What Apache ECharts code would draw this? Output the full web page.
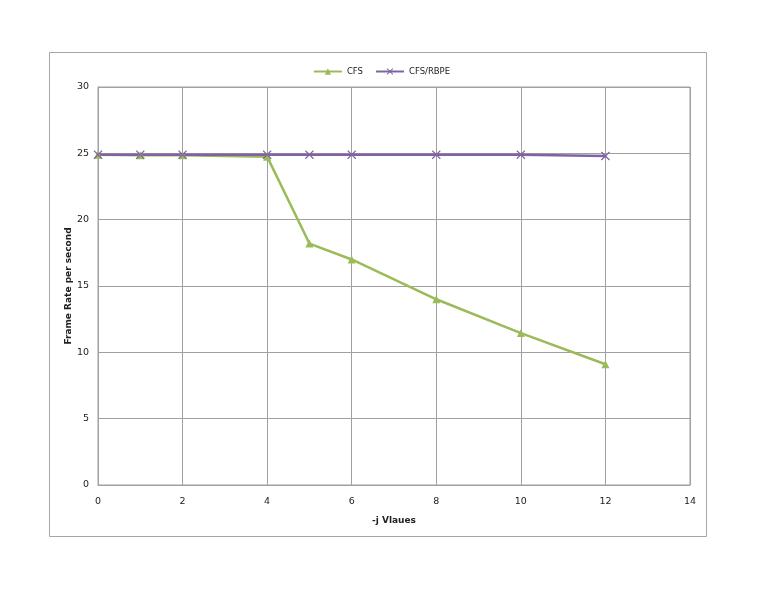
<!DOCTYPE html>
<html>
<head>
<meta charset="utf-8">
<script src="https://cdn.jsdelivr.net/npm/echarts@6/dist/echarts.min.js"></script>
<style>
  html, body { margin: 0; padding: 0; background: #fff; }
  #chart { width: 763px; height: 599px; }
</style>
</head>
<body>
<div id="chart"></div>
<script>
// -j values and frame rates
const jValues = [0, 1, 2, 4, 5, 6, 8, 10, 12];
const cfs = [24.9, 24.85, 24.85, 24.75, 18.2, 17, 14, 11.45, 9.1];
const cfsRbpe = [24.9, 24.9, 24.9, 24.9, 24.9, 24.9, 24.9, 24.9, 24.8];

const pairs = (ys) => jValues.map((x, i) => [x, ys[i]]);
const crossPath = "path://M0,1L1,0L5,4L9,0L10,1L6,5L10,9L9,10L5,6L1,10L0,9L4,5Z";

const chart = echarts.init(document.getElementById("chart"));
const axisText = { color: "#222", fontSize: 9.5, fontFamily: "DejaVu Sans" };
chart.setOption({
  animation: false,
  graphic: [
    {
      type: "rect",
      shape: { x: 49.5, y: 52.5, width: 657, height: 484 },
      style: { fill: "none", stroke: "#a6a6a6", lineWidth: 1 },
      silent: true,
    },
  ],
  legend: {
    top: 62,
    left: "center",
    itemWidth: 28,
    itemHeight: 8,
    itemGap: 12,
    textStyle: { fontSize: 8.5, color: "#222", fontFamily: "DejaVu Sans" },
    data: ["CFS", "CFS/RBPE"],
  },
  grid: { left: 98, top: 87, right: 73, bottom: 114, show: true, borderColor: "#a0a0a0", borderWidth: 1 },
  xAxis: {
    type: "value",
    min: 0,
    max: 14,
    interval: 2,
    name: "-j Vlaues",
    nameLocation: "middle",
    nameGap: 31,
    nameMoveOverlap: false,
    nameTextStyle: { fontSize: 9, fontWeight: "bold", color: "#222", fontFamily: "DejaVu Sans" },
    axisLine: { show: true, lineStyle: { color: "#a0a0a0" } },
    axisTick: { show: false },
    axisLabel: Object.assign({ margin: 12 }, axisText),
    splitLine: { show: true, lineStyle: { color: "#a0a0a0", width: 1 } },
  },
  yAxis: {
    type: "value",
    min: 0,
    max: 30,
    interval: 5,
    name: "Frame Rate per second",
    nameLocation: "middle",
    nameGap: 25,
    nameMoveOverlap: false,
    nameTextStyle: { fontSize: 9, fontWeight: "bold", color: "#222", fontFamily: "DejaVu Sans" },
    axisLine: { show: true, lineStyle: { color: "#a0a0a0" } },
    axisTick: { show: false },
    axisLabel: Object.assign({ margin: 9 }, axisText),
    splitLine: { show: true, lineStyle: { color: "#a0a0a0", width: 1 } },
  },
  series: [
    {
      name: "CFS",
      type: "line",
      data: pairs(cfs),
      symbol: "triangle",
      symbolSize: 8,
      lineStyle: { color: "#9bbb59", width: 2.5 },
      itemStyle: { color: "#9bbb59" },
    },
    {
      name: "CFS/RBPE",
      type: "line",
      data: pairs(cfsRbpe),
      symbol: crossPath,
      symbolSize: 9,
      lineStyle: { color: "#8064a2", width: 2.5 },
      itemStyle: { color: "#8064a2" },
    },
  ],
});
</script>
</body>
</html>
